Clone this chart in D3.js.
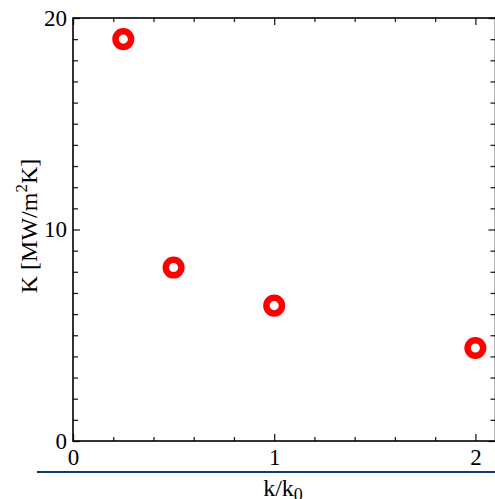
<!DOCTYPE html>
<html>
<head>
<meta charset="utf-8">
<script src="https://cdn.jsdelivr.net/npm/d3@7/dist/d3.min.js"></script>
<style>
  html, body { margin: 0; padding: 0; background: #fff; }
  svg { display: block; }
  text { font-family: "Liberation Serif", "Times New Roman", serif; fill: #000; }
</style>
</head>
<body>
<script>
// Conductance K versus wavenumber ratio k/k0
const ratio = [0.25, 0.5, 1, 2];
const conductance = [19, 8.2, 6.4, 4.4];
const xMajorTicks = [0, 1, 2];
const xMinorTicks = [0.2, 0.4, 0.6, 0.8, 1.2, 1.4, 1.6, 1.8];
const yMajorTicks = [0, 10, 20];
const yMinorTicks = d3.range(1, 20).filter(v => v !== 10);

const W = 495, H = 499;
const svg = d3.select("body").append("svg").attr("width", W).attr("height", H);

const x = d3.scaleLinear().domain([0, 2.1]).range([73, 495.5]);
const y = d3.scaleLinear().domain([0, 20]).range([441, 18]);

const fs = 23;

function styleAxis(g) {
  g.select(".domain").remove();
  g.selectAll(".tick line").attr("stroke", "#222").attr("stroke-width", 1.3);
  g.selectAll(".tick text").style("font-family", "Liberation Serif, serif").style("font-size", fs + "px").attr("fill", "#000");
}

// bottom axis: major with labels, minor without
svg.append("g").attr("transform", `translate(0,${y(0)})`)
  .call(d3.axisBottom(x).tickValues(xMajorTicks).tickSize(-7).tickPadding(8).tickFormat(d3.format("d")))
  .call(styleAxis);
svg.append("g").attr("transform", `translate(0,${y(0)})`)
  .call(d3.axisBottom(x).tickValues(xMinorTicks).tickSize(-4).tickFormat(""))
  .call(styleAxis);

// top axis: ticks only
svg.append("g").attr("transform", `translate(0,${y(20)})`)
  .call(d3.axisTop(x).tickValues(xMajorTicks).tickSize(-7).tickFormat(""))
  .call(styleAxis);
svg.append("g").attr("transform", `translate(0,${y(20)})`)
  .call(d3.axisTop(x).tickValues(xMinorTicks).tickSize(-4).tickFormat(""))
  .call(styleAxis);

// left axis
svg.append("g").attr("transform", `translate(${x(0)},0)`)
  .call(d3.axisLeft(y).tickValues(yMajorTicks).tickSize(-7).tickPadding(6).tickFormat(d3.format("d")))
  .call(styleAxis);
svg.append("g").attr("transform", `translate(${x(0)},0)`)
  .call(d3.axisLeft(y).tickValues(yMinorTicks).tickSize(-5).tickFormat(""))
  .call(styleAxis);

// right axis
svg.append("g").attr("transform", `translate(${x(2.1)},0)`)
  .call(d3.axisRight(y).tickValues(yMajorTicks).tickSize(-7).tickFormat(""))
  .call(styleAxis);
svg.append("g").attr("transform", `translate(${x(2.1)},0)`)
  .call(d3.axisRight(y).tickValues(yMinorTicks).tickSize(-5).tickFormat(""))
  .call(styleAxis);

// frame
svg.append("rect")
  .attr("x", x(0)).attr("y", y(20))
  .attr("width", x(2.1) - x(0)).attr("height", y(0) - y(20))
  .attr("fill", "none").attr("stroke", "#000").attr("stroke-width", 1.6);

// separator rule under the tick labels
svg.append("line")
  .attr("x1", 37).attr("x2", W).attr("y1", 472).attr("y2", 472)
  .attr("stroke", "#0b3d6e").attr("stroke-width", 2);

// data markers
svg.append("g").selectAll("circle")
  .data(ratio.map((r, i) => ({ r, k: conductance[i] })))
  .join("circle")
  .attr("cx", d => x(d.r)).attr("cy", d => y(d.k))
  .attr("r", 7.8)
  .attr("fill", "none").attr("stroke", "#ff0000").attr("stroke-width", 6.5);

// axis titles
const xt = svg.append("text")
  .attr("x", 283).attr("y", 496)
  .attr("text-anchor", "middle")
  .style("font-size", "24px");
xt.append("tspan").text("k/k");
xt.append("tspan").attr("dy", 5).style("font-size", "18px").text("0");

const yt = svg.append("text")
  .attr("transform", `translate(37,226) rotate(-90)`)
  .attr("text-anchor", "middle")
  .style("font-size", "24px");
yt.append("tspan").text("K [MW/m");
yt.append("tspan").attr("dy", -10).style("font-size", "17px").text("2");
yt.append("tspan").attr("dy", 10).text("K]");
</script>
</body>
</html>
